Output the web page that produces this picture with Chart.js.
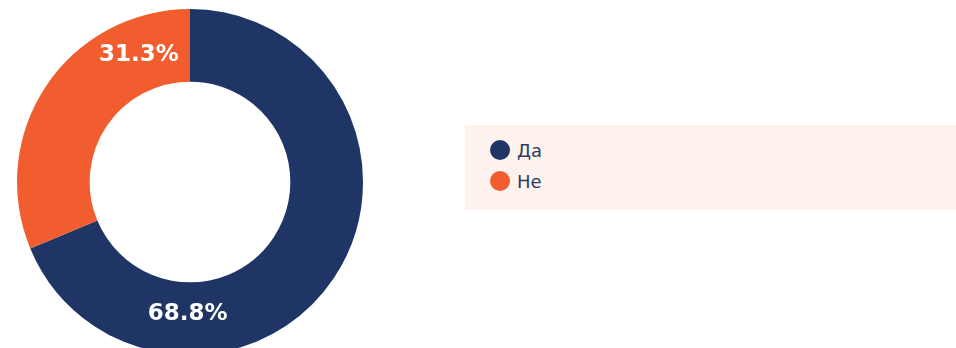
<!DOCTYPE html>
<html>
<head>
<meta charset="utf-8">
<script src="https://cdn.jsdelivr.net/npm/chart.js@4"></script>
<style>
  html, body { margin: 0; padding: 0; width: 956px; height: 348px; overflow: hidden; background: #ffffff; }
  #wrap { position: absolute; left: 17px; top: 9px; width: 346px; height: 346px; }
  #legend { position: absolute; left: 465px; top: 125px; width: 491px; height: 85px; background: #fdf2ed; }
  .item { position: absolute; left: 25px; height: 22px; display: flex; align-items: center;
          font-family: "DejaVu Sans", "Noto Sans", sans-serif; font-size: 18px; color: #2c3a68; }
  .dot { width: 20px; height: 20px; border-radius: 50%; margin-right: 7px; }
</style>
</head>
<body>
<div id="wrap"><canvas id="c"></canvas></div>
<div id="legend"></div>
<script>
const categories = ["Да", "Не"];
const values = [68.8, 31.3];
const labels = ["68.8%", "31.3%"];
const colors = ["#1f3566", "#f15d2f"];

// HTML legend built from the data arrays
const legend = document.getElementById('legend');
categories.forEach((name, i) => {
  const it = document.createElement('div');
  it.className = 'item';
  it.style.top = (14 + i * 31) + 'px';
  const d = document.createElement('span');
  d.className = 'dot';
  d.style.background = colors[i];
  const t = document.createElement('span');
  t.textContent = name;
  it.appendChild(d); it.appendChild(t);
  legend.appendChild(it);
});

// label placement (degrees clockwise from top, radial fraction of ring middle) — styling only
const labelAngles = [181, -22];
const labelRadial = [0.965, 1.0];

const valueLabels = {
  id: 'valueLabels',
  afterDatasetsDraw(chart) {
    const ctx = chart.ctx;
    const meta = chart.getDatasetMeta(0);
    ctx.save();
    ctx.fillStyle = '#ffffff';
    ctx.font = 'bold 23px "DejaVu Sans", "Noto Sans", sans-serif';
    ctx.textAlign = 'center';
    ctx.textBaseline = 'middle';
    meta.data.forEach((arc, i) => {
      const p = arc.getProps(['x', 'y', 'innerRadius', 'outerRadius'], true);
      const r = (p.innerRadius + p.outerRadius) / 2 * labelRadial[i];
      const a = labelAngles[i] * Math.PI / 180;
      const x = p.x + r * Math.sin(a);
      const y = p.y - r * Math.cos(a);
      ctx.fillText(labels[i], x, y);
    });
    ctx.restore();
  }
};

new Chart(document.getElementById('c'), {
  type: 'doughnut',
  data: {
    labels: categories,
    datasets: [{
      data: values,
      backgroundColor: colors,
      borderWidth: 0,
      hoverOffset: 0
    }]
  },
  options: {
    responsive: true,
    maintainAspectRatio: false,
    animation: false,
    cutout: '58%',
    layout: { padding: 0 },
    plugins: {
      legend: { display: false },
      tooltip: { enabled: false }
    }
  },
  plugins: [valueLabels]
});
</script>
</body>
</html>
